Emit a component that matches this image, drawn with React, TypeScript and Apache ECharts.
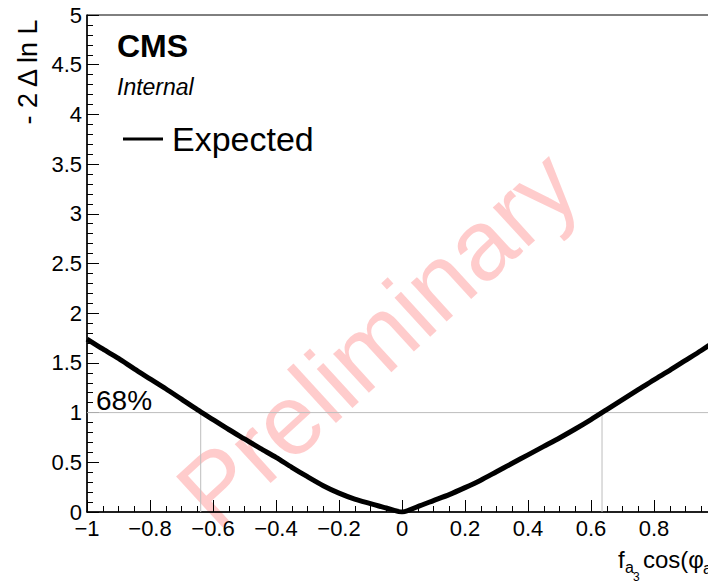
import React, { useEffect, useRef } from "react";
import * as echarts from "echarts";

// f_a3 cos(phi_a3) scan points
const xValues = [
  -1.0, -0.95, -0.9, -0.85, -0.8, -0.75, -0.7, -0.65, -0.6, -0.55, -0.5,
  -0.45, -0.4, -0.35, -0.3, -0.25, -0.2, -0.15, -0.1, -0.05, 0.0,
  0.05, 0.1, 0.15, 0.2, 0.25, 0.3, 0.35, 0.4, 0.45, 0.5,
  0.55, 0.6, 0.65, 0.7, 0.75, 0.8, 0.85, 0.9, 0.95, 1.0,
];
// -2 Delta ln L (expected)
const expectedValues = [
  1.74, 1.64, 1.545, 1.44, 1.34, 1.24, 1.135, 1.03, 0.93, 0.83, 0.735,
  0.64, 0.55, 0.45, 0.355, 0.265, 0.19, 0.13, 0.085, 0.04, 0.0,
  0.055, 0.115, 0.175, 0.245, 0.32, 0.405, 0.49, 0.575, 0.66, 0.745,
  0.835, 0.93, 1.03, 1.13, 1.23, 1.33, 1.425, 1.525, 1.625, 1.73,
];
const level68 = 1;
const crossings68 = [-0.639, 0.635];
const xRange = [-1, 1];
const yRange = [0, 5];

const FONT = "'Liberation Sans', Arial, Helvetica, sans-serif";

export default function App() {
  const ref = useRef<HTMLDivElement>(null);

  useEffect(() => {
    if (!ref.current) return;
    const chart = echarts.init(ref.current, null, { renderer: "svg" });
    const curve = xValues.map((x, i) => [x, expectedValues[i]]);
    const grayStyle = { color: "#bdbdbd", width: 1 };
    const graySeries: any[] = [
      {
        type: "line",
        name: "h68",
        data: [[xRange[0], level68], [xRange[1], level68]],
        showSymbol: false,
        lineStyle: grayStyle,
        silent: true,
        z: 2,
      },
      ...crossings68.map((c, i) => ({
        type: "line",
        name: "v68_" + i,
        data: [[c, 0], [c, level68]],
        showSymbol: false,
        lineStyle: grayStyle,
        silent: true,
        z: 2,
      })),
    ];

    chart.setOption({
      animation: false,
      backgroundColor: "#fff",
      grid: {
        left: 87,
        top: 15,
        width: 630,
        height: 497,
        show: true,
        borderColor: "#000",
        borderWidth: 1,
        backgroundColor: "transparent",
      },
      legend: {
        data: [{ name: "Expected", icon: "rect" }],
        left: 123,
        top: 122,
        padding: 0,
        itemWidth: 40,
        itemHeight: 3,
        textStyle: { fontSize: 34, color: "#000", fontFamily: FONT, padding: [0, 0, 0, 4] },
      },
      xAxis: {
        type: "value",
        min: xRange[0],
        max: xRange[1],
        interval: 0.2,
        axisLine: { onZero: false, lineStyle: { color: "#000", width: 1.5 } },
        axisTick: { inside: true, length: 12, lineStyle: { color: "#000", width: 1 } },
        minorTick: { show: true, splitNumber: 4, length: 6, lineStyle: { color: "#000", width: 1 } },
        splitLine: { show: false },
        axisLabel: {
          margin: 5,
          fontSize: 22,
          color: "#000",
          fontFamily: FONT,
          formatter: (v: number) => (v >= 0.999 ? "" : String(+v.toFixed(1)).replace("-", "\u2212")),
        },
      },
      yAxis: {
        type: "value",
        min: yRange[0],
        max: yRange[1],
        interval: 0.5,
        axisLine: { show: true, onZero: false, lineStyle: { color: "#000", width: 1.5 } },
        axisTick: { inside: true, length: 12, lineStyle: { color: "#000", width: 1 } },
        minorTick: { show: true, splitNumber: 5, length: 6, lineStyle: { color: "#000", width: 1 } },
        splitLine: { show: false },
        axisLabel: {
          margin: 5,
          fontSize: 22,
          color: "#000",
          fontFamily: FONT,
        },
      },
      series: [
        ...graySeries,
        {
          type: "line",
          name: "Expected",
          data: curve,
          showSymbol: false,
          smooth: 0.25,
          itemStyle: { color: "#000" },
          lineStyle: { color: "#000", width: 5 },
          z: 3,
        },
      ],
      graphic: [
        {
          type: "text",
          z: 0,
          zlevel: 0,
          x: 377,
          y: 338,
          rotation: (42.5 * Math.PI) / 180,
          silent: true,
          style: {
            text: "Preliminary",
            fontSize: 100,
            fontFamily: FONT,
            fill: "rgba(255, 0, 0, 0.2)",
            align: "center",
            verticalAlign: "middle",
          },
        },
        {
          type: "text",
          x: 117,
          y: 46,
          style: { text: "CMS", fontSize: 32, fontWeight: "bold", fontFamily: FONT, fill: "#000", align: "left", verticalAlign: "middle" },
        },
        {
          type: "text",
          x: 117,
          y: 87,
          style: { text: "Internal", fontSize: 23, fontStyle: "italic", fontFamily: FONT, fill: "#000", align: "left", verticalAlign: "middle" },
        },
        {
          type: "text",
          x: 96,
          y: 400,
          style: { text: "68%", fontSize: 28, fontFamily: FONT, fill: "#000", align: "left", verticalAlign: "middle" },
        },
        {
          type: "text",
          x: 28,
          y: 72,
          rotation: Math.PI / 2,
          style: { text: "- 2 \u0394 ln L", fontSize: 27, fontFamily: FONT, fill: "#000", align: "center", verticalAlign: "middle" },
        },
        {
          type: "text",
          x: 618,
          y: 559,
          style: { text: "f", fontSize: 24, fontFamily: FONT, fill: "#000", align: "left", verticalAlign: "middle" },
        },
        {
          type: "text",
          x: 625,
          y: 567,
          style: { text: "a", fontSize: 16, fontFamily: FONT, fill: "#000", align: "left", verticalAlign: "middle" },
        },
        {
          type: "text",
          x: 633,
          y: 577,
          style: { text: "3", fontSize: 12, fontFamily: FONT, fill: "#000", align: "left", verticalAlign: "middle" },
        },
        {
          type: "text",
          x: 643,
          y: 559,
          style: { text: "cos(\u03c6", fontSize: 24, fontFamily: FONT, fill: "#000", align: "left", verticalAlign: "middle" },
        },
        {
          type: "text",
          x: 703,
          y: 568,
          style: { text: "a", fontSize: 16, fontFamily: FONT, fill: "#000", align: "left", verticalAlign: "middle" },
        },
        {
          type: "text",
          x: 711,
          y: 578,
          style: { text: "3", fontSize: 12, fontFamily: FONT, fill: "#000", align: "left", verticalAlign: "middle" },
        },
      ],
    });
    return () => chart.dispose();
  }, []);

  return (
    <div style={{ position: "fixed", left: 0, top: 0, width: 708, height: 583, overflow: "hidden", background: "#fff" }}>
      <div ref={ref} style={{ width: 740, height: 583 }} />
    </div>
  );
}
